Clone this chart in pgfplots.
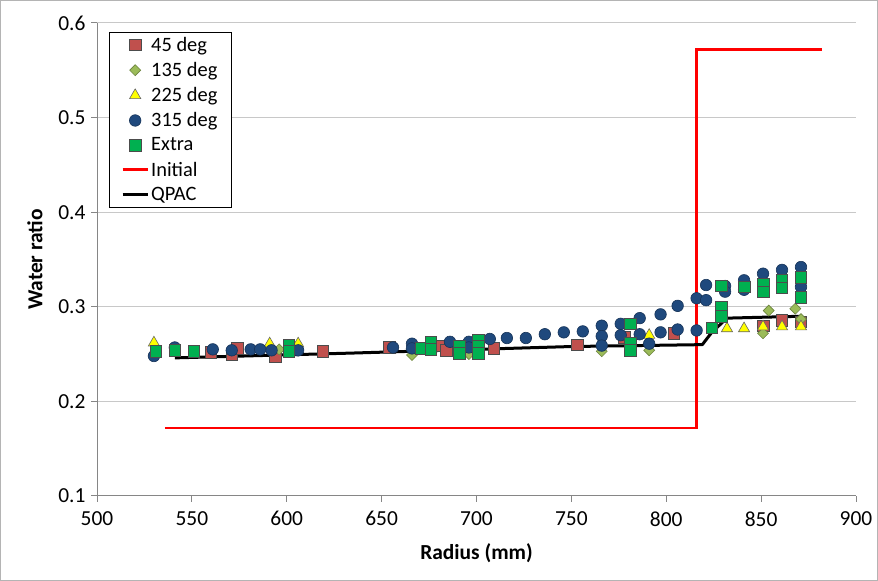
\documentclass[border=0pt]{standalone}
\usepackage{fontspec}
\setmainfont{Carlito}
\usepackage{pgfplots}
\pgfplotsset{compat=1.18}

\definecolor{c45}{RGB}{192,80,77}
\definecolor{c135}{RGB}{155,187,89}
\definecolor{c225}{RGB}{255,255,0}
\definecolor{c315}{RGB}{31,73,125}
\definecolor{cextra}{RGB}{0,176,80}
\definecolor{axgray}{RGB}{134,134,134}
\definecolor{gridgray}{RGB}{200,200,200}
\definecolor{framegray}{RGB}{180,180,180}

% square diamond (equal width and height)
\pgfdeclareplotmark{sqdiamond}{%
  \pgfpathmoveto{\pgfqpoint{0pt}{\pgfplotmarksize}}%
  \pgfpathlineto{\pgfqpoint{\pgfplotmarksize}{0pt}}%
  \pgfpathlineto{\pgfqpoint{0pt}{-\pgfplotmarksize}}%
  \pgfpathlineto{\pgfqpoint{-\pgfplotmarksize}{0pt}}%
  \pgfpathclose
  \pgfusepathqfillstroke}

\begin{document}
\begin{tikzpicture}[x=1bp,y=1bp]
\useasboundingbox (0,0) rectangle (878,581);
\draw[framegray, line width=1bp] (0.5,0.5) rectangle (877.5,580.5);
\begin{axis}[
  at={(97bp,85bp)}, anchor=south west,
  scale only axis, width=759bp, height=473bp,
  xmin=500, xmax=900, ymin=0.1, ymax=0.6,
  xtick={500,550,600,650,700,750,800,850,900},
  ytick={0.1,0.2,0.3,0.4,0.5,0.6},
  axis x line*=bottom, axis y line*=left,
  axis line style={-, axgray, line width=1bp},
  tick style={axgray, line width=1bp},
  major tick length=6bp, tick align=outside,
  ymajorgrids, grid style={gridgray, line width=1bp},
  /pgf/number format/assume math mode=true,
  ticklabel style={font=\fontsize{21.5}{24}\selectfont},
  yticklabel style={/pgf/number format/fixed, /pgf/number format/precision=1, /pgf/number format/fixed zerofill, xshift=-2bp},
  xticklabel style={/pgf/number format/1000 sep={}, yshift=-6bp},
  xlabel={\textbf{Radius (mm)}},
  ylabel={\textbf{Water ratio}},
  label style={font=\fontsize{21.5}{24}\selectfont},
  xlabel style={at={(axis description cs:0.5,-0.1205)}, anchor=center},
  ylabel style={at={(axis description cs:-0.0817,0.5)}, anchor=center},
  legend style={at={(axis description cs:0.0158,0.981)}, anchor=north west,
    draw=black, fill=white,
    font=\fontsize{20.5}{23}\selectfont, row sep=5.5bp,
    inner xsep=12bp, inner ysep=3bp},
  legend cell align=left,
  legend image code/.code={\draw[mark repeat=2, mark phase=2] plot coordinates {(0bp,0bp) (12.5bp,0bp) (25bp,0bp)};},
]

% lines sit beneath the markers
\addplot[forget plot, red, line width=2.5bp] coordinates {
  (535.8,0.172) (816,0.172) (816,0.572) (882,0.572)
};
\addplot[forget plot, black, line width=3bp, line join=round] coordinates {
  (541,0.246) (633,0.251) (750,0.258) (819,0.260) (824,0.273) (832,0.288) (871,0.290)
};

% 45 deg
\addplot[only marks, mark=square*, mark size=5.8pt,
  mark options={fill=c45, draw=black!70, line width=0.6bp}] coordinates {
  (560,0.252) (571,0.250) (574,0.256) (594,0.247) (619,0.253)
  (654,0.257) (680,0.259) (684,0.254) (709,0.256) (753,0.260)
  (778,0.268) (804,0.272) (851,0.280) (861,0.286) (871,0.284)
};
\addlegendentry{45 deg}

% 135 deg
\addplot[only marks, mark=sqdiamond, mark size=5.5pt,
  mark options={fill=c135, draw=c135!70!black, line width=0.6bp}] coordinates {
  (596,0.255) (603,0.257) (666,0.249) (696,0.250) (766,0.253)
  (791,0.254) (851,0.272) (854,0.296) (868,0.298) (871,0.287)
};
\addlegendentry{135 deg}

% 225 deg
\addplot[only marks, mark=triangle*, mark size=6.5pt,
  mark options={fill=c225, draw=black!60, line width=0.6bp}] coordinates {
  (530,0.262) (591,0.261) (606,0.261) (791,0.270) (832,0.277)
  (841,0.277) (851,0.279) (861,0.279) (871,0.279)
};
\addlegendentry{225 deg}

% 315 deg
\addplot[only marks, mark=*, mark size=5.8pt,
  mark options={fill=c315, draw=c315!70!black, line width=0.6bp}] coordinates {
  (530,0.248) (541,0.257) (561,0.255) (571,0.254) (581,0.255)
  (586,0.255) (592,0.254) (606,0.254) (656,0.257) (666,0.261)
  (666,0.256) (686,0.263) (696,0.263) (696,0.257) (707,0.266)
  (716,0.267) (726,0.267) (736,0.271) (746,0.273) (756,0.274)
  (766,0.280) (766,0.269) (766,0.259) (776,0.282) (776,0.270)
  (786,0.288) (786,0.271) (791,0.261) (797,0.292) (797,0.273)
  (806,0.301) (806,0.276) (816,0.309) (816,0.275) (821,0.323)
  (821,0.307) (831,0.322) (831,0.316) (841,0.328) (841,0.318)
  (851,0.335) (861,0.339) (871,0.342) (871,0.321)
};
\addlegendentry{315 deg}

% Extra
\addplot[only marks, mark=square*, mark size=5.8pt,
  mark options={fill=cextra, draw=black!70, line width=0.6bp}] coordinates {
  (531,0.253) (541,0.254) (551,0.253) (601,0.260) (601,0.253)
  (671,0.256) (676,0.263) (676,0.255) (691,0.258) (691,0.251)
  (701,0.265) (701,0.258) (701,0.251) (781,0.282) (781,0.262)
  (781,0.254) (824,0.278) (829,0.322) (829,0.300) (829,0.290)
  (841,0.321) (851,0.324) (851,0.316) (861,0.328) (861,0.320)
  (871,0.331) (871,0.310)
};
\addlegendentry{Extra}

\addlegendimage{red, line width=2.5bp}
\addlegendentry{Initial}
\addlegendimage{black, line width=3bp}
\addlegendentry{QPAC}
\end{axis}
\end{tikzpicture}
\end{document}
